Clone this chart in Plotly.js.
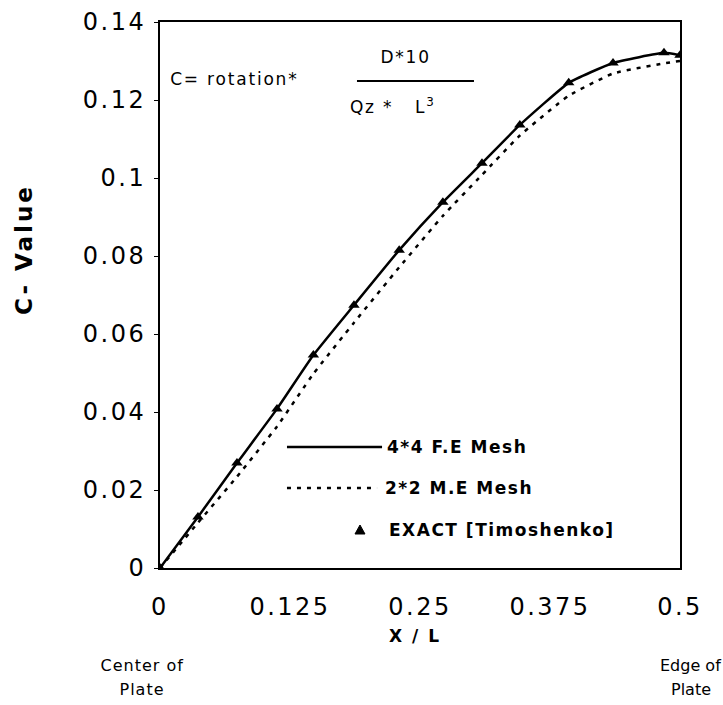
<!DOCTYPE html>
<html><head><meta charset="utf-8">
<script src="https://cdn.plot.ly/plotly-3.0.1.min.js"></script>
<style>
html,body{margin:0;padding:0;background:#fff;}
#chart{width:723px;height:705px;}
.xtick text, .ytick text {letter-spacing: 2.5px;}
.annotation[data-index="0"] .annotation-text,
.annotation[data-index="1"] .annotation-text,
.annotation[data-index="2"] .annotation-text {letter-spacing: 1.8px;}
.annotation[data-index="3"] .annotation-text,
.annotation[data-index="4"] .annotation-text,
.annotation[data-index="5"] .annotation-text {letter-spacing: 1.5px;}
.annotation[data-index="6"] .annotation-text {letter-spacing: 3px;}
.annotation[data-index="7"] .annotation-text {letter-spacing: 2px;}
.annotation[data-index="8"] .annotation-text,
.annotation[data-index="9"] .annotation-text {letter-spacing: 1px;}
</style>
</head><body><div id="chart"></div>
<script>
// X / L positions of the plotted stations
const xPos   = [0, 0.0365, 0.074, 0.1125, 0.1475, 0.1865, 0.23, 0.272, 0.3096, 0.346, 0.393, 0.4356, 0.4846, 0.5];
// EXACT [Timoshenko]
const exactC = [0, 0.0131, 0.0269, 0.0408, 0.0546, 0.0674, 0.0815, 0.0938, 0.1038, 0.1136, 0.1244, 0.1295, 0.1321, 0.1315];
// 4*4 F.E Mesh
const feC    = [0, 0.0131, 0.0269, 0.0408, 0.0546, 0.0674, 0.0815, 0.0938, 0.1038, 0.1136, 0.1244, 0.1295, 0.1321, 0.1315];
// 2*2 M.E Mesh
const meC    = [0, 0.0116, 0.0234, 0.0363, 0.0498, 0.0629, 0.0771, 0.0903, 0.1008, 0.1109, 0.1211, 0.1268, 0.1294, 0.1300];
const xTickVals = [0, 0.125, 0.25, 0.375, 0.5];
const xTickText = ['0', '0.125', '0.25', '0.375', '0.5'];
const yTickVals = [0, 0.02, 0.04, 0.06, 0.08, 0.1, 0.12, 0.14];
const yTickText = ['0', '0.02', '0.04', '0.06', '0.08', '0.1', '0.12', '0.14'];
const seriesNames = ['4*4 F.E Mesh', '2*2 M.E Mesh', 'EXACT [Timoshenko]'];

const traces = [
  {x: xPos, y: feC, name: seriesNames[0], type: 'scatter', mode: 'lines',
   line: {color: '#000', width: 2.5, shape: 'spline', smoothing: 0.4}},
  {x: xPos, y: meC, name: seriesNames[1], type: 'scatter', mode: 'lines',
   line: {color: '#000', width: 2.5, dash: '4px,6px', shape: 'spline', smoothing: 0.4}},
  {x: xPos, y: exactC, name: seriesNames[2], type: 'scatter', mode: 'markers',
   marker: {color: '#000', symbol: 'triangle-up', size: 10}}
];

const tickFont = {family: 'DejaVu Sans, sans-serif', size: 24, color: '#000'};
const legFont = {family: 'DejaVu Sans, sans-serif', size: 17, color: '#000', weight: 'bold'};
const txtFont = {family: 'DejaVu Sans, sans-serif', size: 16, color: '#000'};
const fmFont = {family: 'DejaVu Sans, sans-serif', size: 17, color: '#000'};

const layout = {
  width: 723, height: 705,
  margin: {l: 160, r: 43, t: 22, b: 137},
  paper_bgcolor: '#fff', plot_bgcolor: '#fff',
  showlegend: false,
  xaxis: {range: [0, 0.5], tickvals: xTickVals, ticktext: xTickText, ticks: '',
          showline: true, mirror: true, linecolor: '#000', linewidth: 2,
          showgrid: false, zeroline: false, tickfont: tickFont, ticklabelstandoff: 16, fixedrange: true},
  yaxis: {range: [0, 0.14], tickvals: yTickVals, ticktext: yTickText, ticks: 'outside', ticklen: 4,
          tickcolor: '#000', tickwidth: 1,
          showline: true, mirror: true, linecolor: '#000', linewidth: 2,
          showgrid: false, zeroline: false, tickfont: tickFont, ticklabelstandoff: 3, fixedrange: true},
  shapes: [
    {type: 'line', xref: 'x', yref: 'y', x0: 0.1894, x1: 0.3019, y0: 0.1249, y1: 0.1249, line: {color: '#000', width: 2}},
    {type: 'line', xref: 'x', yref: 'y', x0: 0.1221, x1: 0.2135, y0: 0.0310, y1: 0.0310, line: {color: '#000', width: 2.5}},
    {type: 'line', xref: 'x', yref: 'y', x0: 0.1221, x1: 0.2087, y0: 0.0205, y1: 0.0205, line: {color: '#000', width: 2.5, dash: '4px,6px'}},
    {type: 'path', xref: 'x', yref: 'y', xsizemode: 'pixel', ysizemode: 'pixel', xanchor: 0.1923, yanchor: 0.00974,
     path: 'M-5,-4 L5,-4 L0,5 Z', fillcolor: '#000', line: {color: '#000', width: 1}}
  ],
  annotations: [
    {text: 'C= rotation*', xref: 'x', yref: 'y', x: 0.0721, y: 0.1254, showarrow: false, font: fmFont},
    {text: 'D*10', xref: 'x', yref: 'y', x: 0.2356, y: 0.1310, showarrow: false, font: fmFont},
    {text: 'Qz *\u00a0\u00a0\u00a0L<sup>3</sup>', xref: 'x', yref: 'y', x: 0.224, y: 0.1185, showarrow: false, font: fmFont},
    {text: seriesNames[0], xref: 'x', yref: 'y', x: 0.2163, y: 0.0310, xanchor: 'left', align: 'left', showarrow: false, font: legFont},
    {text: seriesNames[1], xref: 'x', yref: 'y', x: 0.2144, y: 0.0205, xanchor: 'left', align: 'left', showarrow: false, font: legFont},
    {text: seriesNames[2], xref: 'x', yref: 'y', x: 0.2183, y: 0.00974, xanchor: 'left', align: 'left', showarrow: false, font: legFont},
    {text: 'C- Value', xref: 'paper', yref: 'paper', x: -0.2615, y: 0.5824, xanchor: 'center', yanchor: 'middle', textangle: -90, showarrow: false,
     font: {family: 'DejaVu Sans, sans-serif', size: 23, color: '#000', weight: 'bold'}},
    {text: 'X / L', xref: 'paper', yref: 'paper', x: 0.4904, y: -0.1245, xanchor: 'center', yanchor: 'middle', showarrow: false,
     font: {family: 'DejaVu Sans, sans-serif', size: 17, color: '#000', weight: 'bold'}},
    {text: 'Center of', xref: 'paper', yref: 'paper', x: -0.0346, y: -0.1777, xanchor: 'center', yanchor: 'middle', showarrow: false, font: txtFont},
    {text: 'Plate', xref: 'paper', yref: 'paper', x: -0.0346, y: -0.2234, xanchor: 'center', yanchor: 'middle', showarrow: false, font: txtFont},
    {text: 'Edge of', xref: 'paper', yref: 'paper', x: 1.021, y: -0.1777, xanchor: 'center', yanchor: 'middle', showarrow: false, font: txtFont},
    {text: 'Plate', xref: 'paper', yref: 'paper', x: 1.021, y: -0.2234, xanchor: 'center', yanchor: 'middle', showarrow: false, font: txtFont}
  ]
};

Plotly.newPlot('chart', traces, layout, {displayModeBar: false, staticPlot: true});
</script>
</body></html>
